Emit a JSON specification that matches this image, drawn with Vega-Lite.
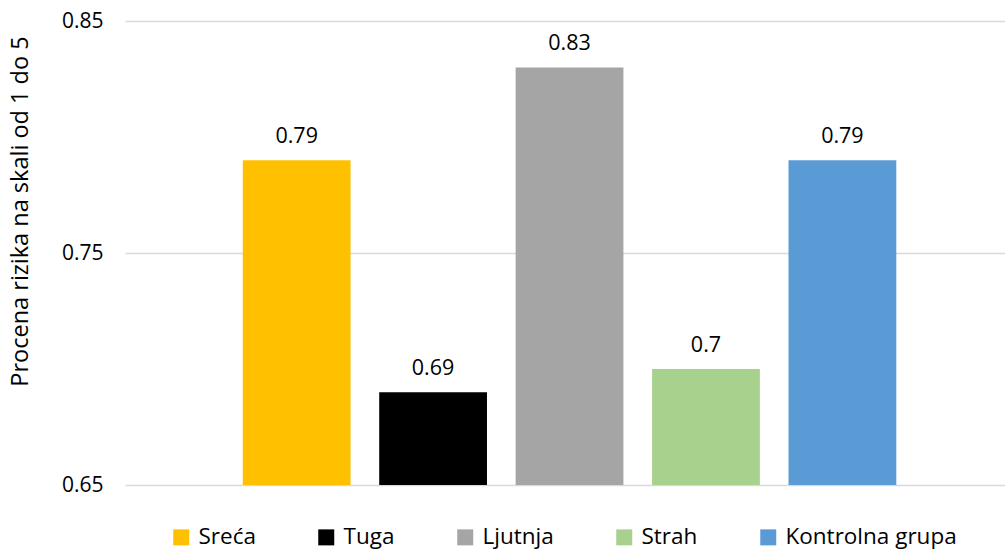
{
  "$schema": "https://vega.github.io/schema/vega-lite/v6.json",
  "width": 880,
  "height": 464,
  "autosize": {"type": "none"},
  "padding": {"left": 125, "top": 21, "right": 0, "bottom": 65},
  "background": "white",
  "config": {
    "view": {"stroke": null},
    "font": "Open Sans",
    "text": {"font": "Open Sans"}
  },
  "data": {
    "values": [
      {"kategorija": "Sreća", "vrednost": 0.79},
      {"kategorija": "Tuga", "vrednost": 0.69},
      {"kategorija": "Ljutnja", "vrednost": 0.83},
      {"kategorija": "Strah", "vrednost": 0.7},
      {"kategorija": "Kontrolna grupa", "vrednost": 0.79}
    ]
  },
  "encoding": {
    "x": {
      "field": "kategorija",
      "type": "nominal",
      "sort": null,
      "scale": {"paddingInner": 0.21, "paddingOuter": 0.83, "align": 0.52},
      "axis": null
    },
    "y": {
      "field": "vrednost",
      "type": "quantitative",
      "scale": {"domain": [0.65, 0.85], "zero": false, "nice": false},
      "axis": {
        "values": [0.65, 0.75, 0.85],
        "format": ".2f",
        "title": "Procena rizika na skali od 1 do 5",
        "titleFont": "Open Sans",
        "titleFontSize": 23.5,
        "titleFontWeight": "normal",
        "titleColor": "#000000",
        "titlePadding": 29,
        "titleY": 190,
        "labelFont": "Open Sans",
        "labelFontSize": 21,
        "labelColor": "#000000",
        "labelPadding": 22,
        "domain": false,
        "ticks": false,
        "grid": true,
        "gridColor": "#D9D9D9",
        "gridWidth": 1.5
      }
    }
  },
  "layer": [
    {
      "mark": {"type": "bar"},
      "encoding": {
        "y2": {"datum": 0.65},
        "color": {
          "field": "kategorija",
          "type": "nominal",
          "scale": {
            "domain": ["Sreća", "Tuga", "Ljutnja", "Strah", "Kontrolna grupa"],
            "range": ["#FFC000", "#000000", "#A5A5A5", "#A9D18E", "#5B9BD5"]
          },
          "legend": {
            "title": null,
            "orient": "none",
            "legendX": 45,
            "legendY": 505,
            "padding": 0,
            "direction": "horizontal",
            "symbolType": "square",
            "symbolSize": 256,
            "symbolStrokeWidth": 0,
            "symbolOpacity": 1,
            "labelFont": "Open Sans",
            "labelFontSize": 22.5,
            "labelColor": "#000000",
            "labelOffset": 6,
            "labelLimit": 400,
            "columnPadding": 59
          }
        }
      }
    },
    {
      "mark": {"type": "text", "baseline": "alphabetic", "dy": -17, "fontSize": 21.5, "font": "Open Sans", "color": "#000000"},
      "encoding": {
        "text": {"field": "vrednost", "type": "quantitative"}
      }
    }
  ]
}
